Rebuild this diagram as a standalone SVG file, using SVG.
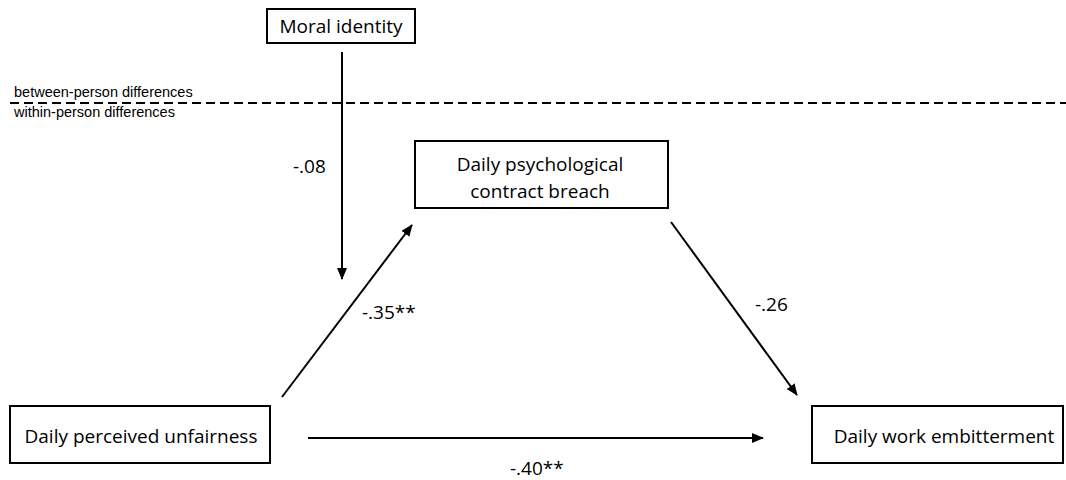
<svg xmlns="http://www.w3.org/2000/svg" width="1066" height="480" viewBox="0 0 1066 480">
<style>
.box{fill:#fff;stroke:#000;stroke-width:2}
.lbl{font-family:"Open Sans","Liberation Sans",sans-serif;font-size:19px;fill:#000}
.small{font-family:"Liberation Sans",Arial,sans-serif;font-size:14.5px;fill:#000}
.conn{stroke:#000;stroke-width:2;fill:none;marker-end:url(#ah)}
</style>
<defs>
<marker id="ah" viewBox="0 0 12 10" refX="11" refY="5" markerWidth="12" markerHeight="10" markerUnits="userSpaceOnUse" orient="auto">
<path d="M0,0 L12,5 L0,10 Z" fill="#000"/>
</marker>
</defs>
<rect width="1066" height="480" fill="#fff"/>
<g id="levels">
<line x1="10" y1="103" x2="1066" y2="103" stroke="#000" stroke-width="2" stroke-dasharray="9,5"/>
<text class="small" x="14" y="97">between-person differences</text>
<text class="small" x="14" y="117">within-person differences</text>
</g>
<g id="moral">
<rect class="box" x="267" y="9" width="148" height="34"/>
<text class="lbl" x="341" y="33" text-anchor="middle">Moral identity</text>
</g>
<g id="breach">
<rect class="box" x="415" y="141" width="253" height="67"/>
<text class="lbl" x="540" y="171" text-anchor="middle">Daily psychological</text>
<text class="lbl" x="540" y="198" text-anchor="middle">contract breach</text>
</g>
<g id="unfair">
<rect class="box" x="10" y="406" width="260" height="57"/>
<text class="lbl" x="141" y="443" text-anchor="middle">Daily perceived unfairness</text>
</g>
<g id="embit">
<rect class="box" x="812" y="406" width="251" height="57"/>
<text class="lbl" x="944" y="443" text-anchor="middle">Daily work embitterment</text>
</g>
<g id="connectors">
<line class="conn" x1="342" y1="52" x2="342" y2="279"/>
<line class="conn" x1="282" y1="397" x2="412" y2="225"/>
<line class="conn" x1="671" y1="222" x2="797" y2="395"/>
<line class="conn" x1="308" y1="438" x2="763" y2="438"/>
<text class="lbl" x="293" y="173">-.08</text>
<text class="lbl" x="362" y="319">-.35**</text>
<text class="lbl" x="755" y="311">-.26</text>
<text class="lbl" x="510" y="475">-.40**</text>
</g>
</svg>
